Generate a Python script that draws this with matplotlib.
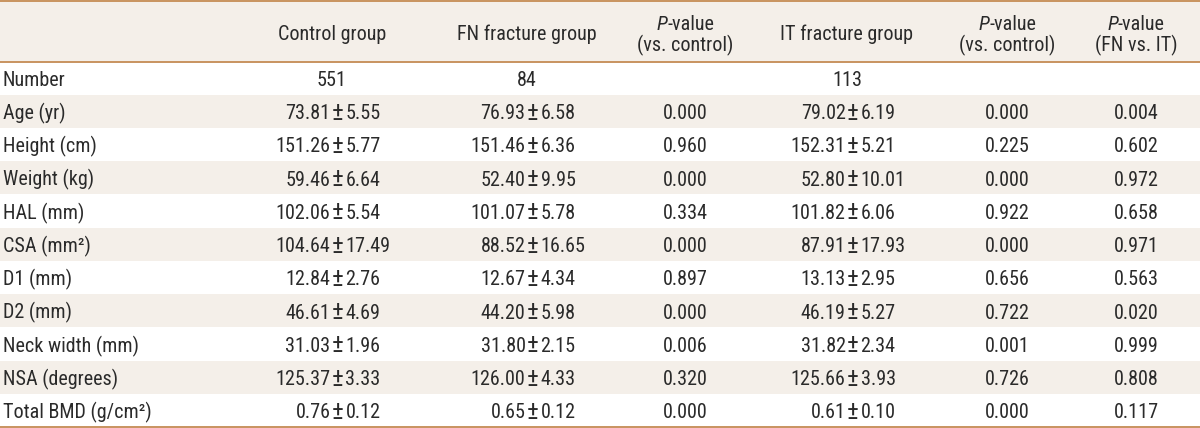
import matplotlib
matplotlib.use("Agg")
import matplotlib.pyplot as plt

# table content
row_labels = ["Number", "Age (yr)", "Height (cm)", "Weight (kg)", "HAL (mm)", "CSA (mm\u00b2)",
              "D1 (mm)", "D2 (mm)", "Neck width (mm)", "NSA (degrees)", "Total BMD (g/cm\u00b2)"]
counts = ["551", "84", "113"]
control_mean = [73.81, 151.26, 59.46, 102.06, 104.64, 12.84, 46.61, 31.03, 125.37, 0.76]
control_sd = [5.55, 5.77, 6.64, 5.54, 17.49, 2.76, 4.69, 1.96, 3.33, 0.12]
fn_mean = [76.93, 151.46, 52.40, 101.07, 88.52, 12.67, 44.20, 31.80, 126.00, 0.65]
fn_sd = [6.58, 6.36, 9.95, 5.78, 16.65, 4.34, 5.98, 2.15, 4.33, 0.12]
it_mean = [79.02, 152.31, 52.80, 101.82, 87.91, 13.13, 46.19, 31.82, 125.66, 0.61]
it_sd = [6.19, 5.21, 10.01, 6.06, 17.93, 2.95, 5.27, 2.34, 3.93, 0.10]
p_fn = ["0.000", "0.960", "0.000", "0.334", "0.000", "0.897", "0.000", "0.006", "0.320", "0.000"]
p_it = ["0.000", "0.225", "0.000", "0.922", "0.000", "0.656", "0.722", "0.001", "0.726", "0.000"]
p_fn_it = ["0.004", "0.602", "0.972", "0.658", "0.971", "0.563", "0.020", "0.999", "0.808", "0.117"]
group_headers = ["Control group", "FN fracture group", "IT fracture group"]
p_headers = ["(vs. control)", "(vs. control)", "(FN vs. IT)"]

plt.rcParams["font.family"] = ["Roboto Condensed", "DejaVu Sans"]

W, H = 1200, 428
fig = plt.figure(figsize=(12, 4.28), dpi=100)
ax = fig.add_axes([0, 0, 1, 1])
ax.set_xlim(0, W)
ax.set_ylim(H, 0)
ax.axis("off")

txt = "#2a2a2a"
line_c = "#c8935f"
shade = "#f4efe9"
fs = 14.5

head_h = 61.5
row_h = (427 - head_h) / len(row_labels)

# backgrounds
ax.axhspan(0, head_h, color=shade, lw=0)
for i in range(len(row_labels)):
    if i % 2 == 1:
        ax.axhspan(head_h + i * row_h, head_h + (i + 1) * row_h, color=shade, lw=0)
for y in [1, head_h, 427]:
    ax.axhline(y, color=line_c, lw=1.4)

group_x = [338, 533, 853]   # position of the +/- sign
p_x = [685, 1007, 1136]

# header
for x, h in zip(group_x, group_headers):
    ax.text(x - 6, 40, h, ha="center", va="baseline", fontsize=fs, color=txt)

fig.canvas.draw()
rend = fig.canvas.get_renderer()
for x, h in zip(p_x, p_headers):
    ax.text(x, 51, h, ha="center", va="baseline", fontsize=fs, color=txt)
    a = ax.text(0, 0, "P", fontsize=fs, style="italic")
    b = ax.text(0, 0, "-value", fontsize=fs)
    wa = a.get_window_extent(rend).width
    wb = b.get_window_extent(rend).width
    a.remove()
    b.remove()
    left = x - (wa + wb) / 2
    ax.text(left, 30, "P", ha="left", va="baseline", fontsize=fs, style="italic", color=txt)
    ax.text(left + wa, 30, "-value", ha="left", va="baseline", fontsize=fs, color=txt)

# rows
for i, lab in enumerate(row_labels):
    yb = head_h + i * row_h + 24.5
    ax.text(3, yb, lab, ha="left", va="baseline", fontsize=fs, color=txt)

yb = head_h + 24.5
for x, c in zip(group_x, counts):
    ax.text(x - 6, yb, c, ha="center", va="baseline", fontsize=fs, color=txt)

groups = [(control_mean, control_sd), (fn_mean, fn_sd), (it_mean, it_sd)]
for j, (means, sds) in enumerate(groups):
    for i in range(len(means)):
        yb = head_h + (i + 1) * row_h + 24.5
        ax.text(group_x[j] - 7.5, yb, f"{means[i]:.2f}", ha="right", va="baseline", fontsize=fs, color=txt)
        ax.text(group_x[j], yb + 0.5, "\u00b1", ha="center", va="baseline", fontsize=fs * 1.25, color=txt)
        ax.text(group_x[j] + 7.5, yb, f"{sds[i]:.2f}", ha="left", va="baseline", fontsize=fs, color=txt)

for j, vals in enumerate([p_fn, p_it, p_fn_it]):
    for i, v in enumerate(vals):
        yb = head_h + (i + 1) * row_h + 24.5
        ax.text(p_x[j], yb, v, ha="center", va="baseline", fontsize=fs, color=txt)

fig.savefig("out.png", dpi=100, facecolor="white")
